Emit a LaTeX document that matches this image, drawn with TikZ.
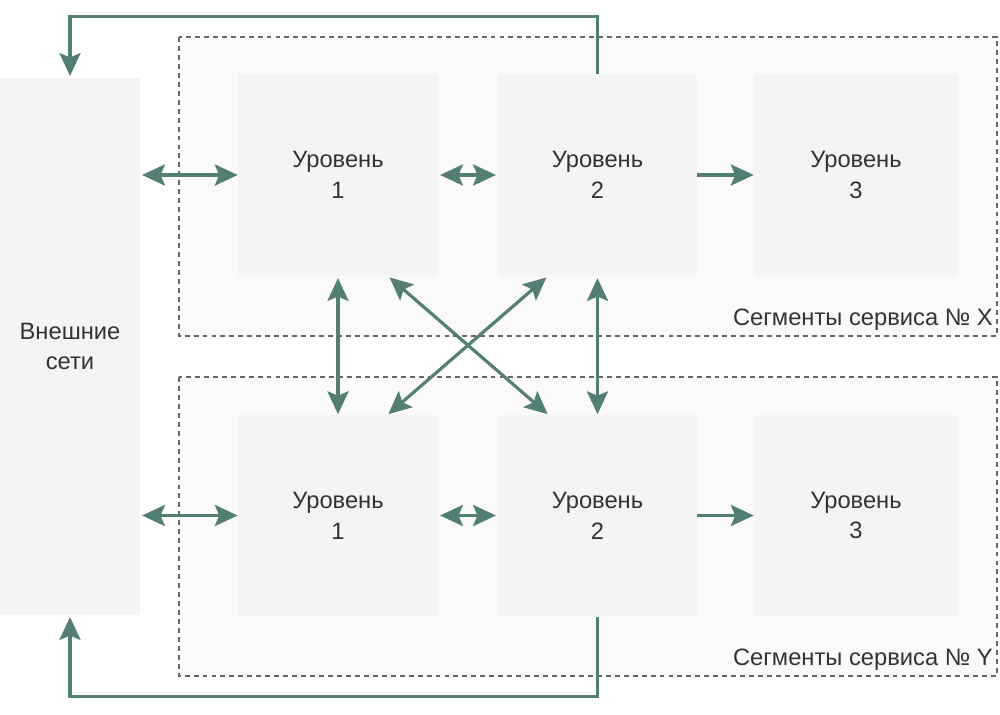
\documentclass[tikz,border=0pt]{standalone}
\usepackage{fontspec}
\setmainfont{Liberation Sans}
\usepackage{tikz}
\usetikzlibrary{arrows.meta}
\definecolor{linkgreen}{HTML}{527E73}
\definecolor{boxgray}{HTML}{F4F4F4}
\definecolor{seggray}{HTML}{FAFAFA}
\definecolor{dashgray}{HTML}{666666}
\definecolor{textgray}{HTML}{333333}

\begin{document}
\begin{tikzpicture}[x=0.02cm,y=-0.02cm,%one unit is one pixel
  lvl/.style={fill=boxgray, minimum width=4cm, minimum height=4.04cm, inner sep=0pt, align=center, text=textgray, font=\fontsize{13.5}{17.5}\selectfont},
  seg/.style={draw=dashgray, fill=seggray, line width=0.85pt, dash pattern=on 2.8pt off 2.3pt},
  link/.style={draw=linkgreen, line width=1.8pt, arrows={-Stealth[length=13pt,width=12pt,inset=2.5pt]}},
  dlink/.style={link, arrows={Stealth[length=13pt,width=12pt,inset=2.5pt]-Stealth[length=13pt,width=12pt,inset=2.5pt]}}]
\useasboundingbox (0,0) rectangle (1000,714);
% service segments
\draw [seg] (179,37) rectangle (997,336);
\draw [seg] (179,377) rectangle (997,676);
\node [anchor=east, inner sep=0pt, text=textgray, font=\fontsize{13.5}{16}\selectfont] (segX) at (993,320) {Сегменты сервиса № X};
\node [anchor=east, inner sep=0pt, text=textgray, font=\fontsize{13.5}{16}\selectfont] (segY) at (993,660) {Сегменты сервиса № Y};
% boxes
\node [lvl, minimum width=2.8cm, minimum height=10.74cm] (ext) at (70,346.5) {Внешние\\сети};
\node [lvl] (a1) at (338,175) {Уровень\\1};
\node [lvl, minimum width=3.98cm] (a2) at (597.5,175) {Уровень\\2};
\node [lvl, minimum width=4.08cm] (a3) at (856,175) {Уровень\\3};
\node [lvl] (b1) at (338,515.5) {Уровень\\1};
\node [lvl, minimum width=3.98cm] (b2) at (597.5,515.5) {Уровень\\2};
\node [lvl, minimum width=4.08cm] (b3) at (856,515.5) {Уровень\\3};
% arrows
\draw [dlink, shorten <=1pt] (ext.east |- a1.west) -- (a1.west);
\draw [dlink, shorten <=1pt, shorten >=1pt] (a1.east) -- (a2.west);
\draw [link] (a2.east) -- (a3.west);
\draw [dlink, shorten <=1pt] (ext.east |- b1.west) -- (b1.west);
\draw [dlink, shorten <=1pt, shorten >=1pt] (b1.east) -- (b2.west);
\draw [link] (b2.east) -- (b3.west);
\draw [dlink, shorten <=1pt] (a1.south) -- (b1.north);
\draw [dlink, shorten <=1pt] (a2.south) -- (b2.north);
\draw [dlink, shorten <=1pt] ([xshift=-1cm]a1.south east) -- ([xshift=1cm]b2.north west);
\draw [dlink, shorten <=1pt] ([xshift=1cm]a2.south west) -- ([xshift=-1cm]b1.north east);
\draw [link, shorten >=1pt] (a2.north) -- ++(0,-57) -| (ext.north);
\draw [link, shorten >=1pt] (b2.south) -- ++(0,80) -| (ext.south);
\end{tikzpicture}
\end{document}
